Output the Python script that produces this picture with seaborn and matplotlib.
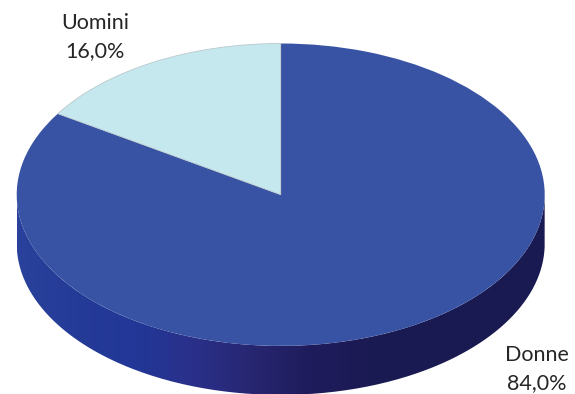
import numpy as np
import matplotlib
matplotlib.use("Agg")
import matplotlib.pyplot as plt
from matplotlib.colors import to_rgb
from matplotlib.path import Path
from matplotlib.patches import PathPatch
import seaborn as sns

categories = ["Donne", "Uomini"]
shares = [84.0, 16.0]
top_colors = ["#3953a4", "#c5e8ee"]
wall_stops = ["#2a429b", "#253b98", "#223797", "#2a308a", "#272671", "#1f1c5c", "#1b1a54", "#1a1a52", "#1a1a52", "#1a1a52"]

sns.set_theme(style="white")
plt.rcParams["font.family"] = ["Lato", "DejaVu Sans"]

WIDTH, HEIGHT = 575, 394
CX, CY, RX, RY = 280.7, 194.7, 264.0, 151.2
DEPTH = 49.0 / RY

fig = plt.figure(figsize=(WIDTH / 100, HEIGHT / 100), dpi=100)
ax = fig.add_axes([0, 0, 1, 1])

# Top face of the disc; the axes limits squash the circle into an ellipse
wedges, _ = ax.pie(shares, colors=top_colors, startangle=90, counterclock=False,
                   radius=1, wedgeprops=dict(linewidth=0.6, edgecolor="none", zorder=3))
wedges[1].set_edgecolor("#b9c8cc")
ax.set_aspect("auto")
xlim = (-CX / RX, (WIDTH - CX) / RX)
ylim = (-(HEIGHT - CY) / RY, CY / RY)

# Side wall: lower half of the rim extruded downward, shaded left to right
theta = np.linspace(np.pi, 2 * np.pi, 300)
rim_x, rim_y = np.cos(theta), np.sin(theta)
outline = np.vstack([np.column_stack([rim_x, rim_y]),
                     np.column_stack([rim_x[::-1], rim_y[::-1] - DEPTH]),
                     [[rim_x[0], rim_y[0]]]])
clip = PathPatch(Path(outline), transform=ax.transData, facecolor="none", edgecolor="none")
ax.add_patch(clip)

ramp = sns.blend_palette(wall_stops, n_colors=256)
shade = np.array([to_rgb(c) for c in ramp])[np.newaxis, :, :]
wall = ax.imshow(shade, extent=(-1, 1, -1 - DEPTH, 0.2), aspect="auto", zorder=1,
                 interpolation="bilinear")
wall.set_clip_path(clip)
ax.set_xlim(xlim)
ax.set_ylim(ylim)
ax.set_aspect("auto")
ax.set_axis_off()

label_anchor = {"Uomini": (95, 37), "Donne": (537, 369)}
for name, value in zip(categories, shares):
    px, py = label_anchor[name]
    ax.text((px - CX) / RX, (CY - py) / RY,
            f"{name}\n{value:.1f}%".replace(".", ","),
            ha="center", va="center", ma="center", fontsize=15.5,
            linespacing=1.5, color="#262626", zorder=5)

fig.savefig("out.png", dpi=100, facecolor="white")
